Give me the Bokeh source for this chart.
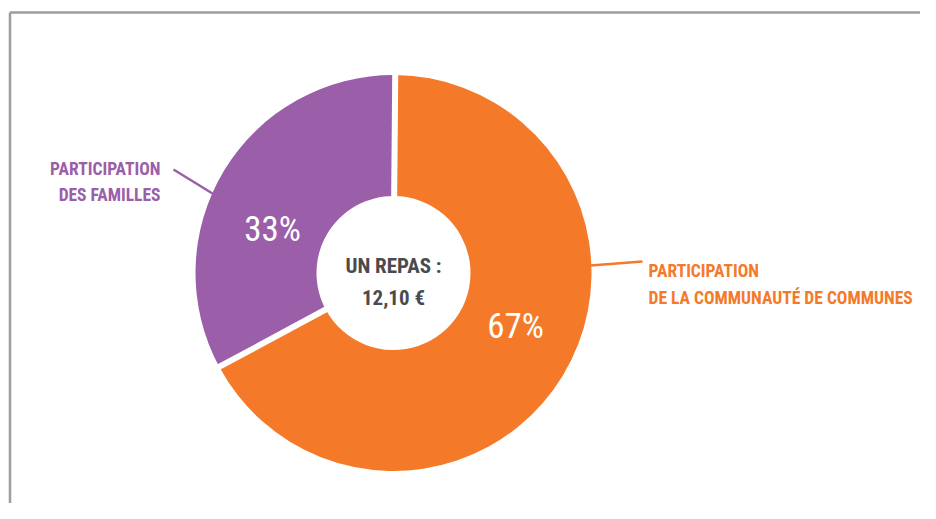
import math
from bokeh.plotting import figure
from bokeh.models import ColumnDataSource
from bokeh.core.properties import value
from bokeh.embed import file_html
from bokeh.resources import INLINE

# ---- data ----
categories = ["PARTICIPATION\nDES FAMILLES", "PARTICIPATION\nDE LA COMMUNAUTÉ DE COMMUNES"]
shares = [33, 67]
pct_labels = ["33%", "67%"]
colors = ["#9b5ea9", "#f47a2a"]
center_title = ["UN REPAS :", "12,10 €"]

W, H = 920, 503
FONT = value("'Roboto Condensed', 'DejaVu Sans Condensed', 'Liberation Sans Narrow', Roboto, sans-serif")

p = figure(width=W, height=H, x_range=(0, W), y_range=(0, H),
           output_backend="svg", toolbar_location=None, min_border=0)
p.axis.visible = False
p.grid.visible = False
p.outline_line_color = None
p.background_fill_color = "white"
p.border_fill_color = "white"

def Y(img_y):
    return H - img_y

# frame (decorative)
p.line(x=[9.5, 9.5], y=[-5, Y(12)], line_color="#9d9d9d", line_width=2.5)
p.line(x=[9.5, W + 5], y=[Y(12), Y(12)], line_color="#9d9d9d", line_width=2.5)

# donut
cx, cy = 393, Y(272.5)
r_in, r_out = 77, 198
start0 = math.radians(89.5)
total = sum(shares)
starts, ends = [], []
acc = start0
for s in shares:
    starts.append(acc)
    acc += 2 * math.pi * s / total
    ends.append(acc)

src = ColumnDataSource(dict(x=[cx] * len(shares), y=[cy] * len(shares),
                            start=starts, end=ends, color=colors))
p.annular_wedge(x="x", y="y", inner_radius=r_in, outer_radius=r_out,
                start_angle="start", end_angle="end", fill_color="color",
                line_color=None, source=src)

# white gaps between slices
gx0, gy0, gx1, gy1 = [], [], [], []
for a in starts:
    gx0.append(cx)
    gy0.append(cy)
    gx1.append(cx + (r_out + 6) * math.cos(a))
    gy1.append(cy + (r_out + 6) * math.sin(a))
p.segment(x0=gx0, y0=gy0, x1=gx1, y1=gy1, line_color="white", line_width=6)

# percentage labels
p.text(x=[272, 515], y=[Y(229), Y(326)], text=pct_labels, text_color="white",
       text_font=FONT, text_font_size="35px", text_align="center",
       text_baseline="middle")

# center text
p.text(x=[393, 393], y=[Y(265), Y(297)], text=center_title, text_color="#4a4a4f",
       text_font=FONT, text_font_style="bold", text_font_size="21px",
       text_align="center", text_baseline="middle")

# category labels
fam = categories[0].split("\n")
com = categories[1].split("\n")
p.text(x=[160, 160], y=[Y(168), Y(194)], text=fam, text_color=colors[0],
       text_font=FONT, text_font_style="bold", text_font_size="17.5px",
       text_align="right", text_baseline="middle")
p.text(x=[648, 648], y=[Y(270), Y(297)], text=com, text_color=colors[1],
       text_font=FONT, text_font_style="bold", text_font_size="17.5px",
       text_align="left", text_baseline="middle")

# leader lines
p.line(x=[173, 212], y=[Y(169), Y(193)], line_color=colors[0], line_width=2.5)
p.line(x=[590, 642], y=[Y(265), Y(261)], line_color=colors[1], line_width=2.5)

open("out.html", "w").write(file_html(p, INLINE))
